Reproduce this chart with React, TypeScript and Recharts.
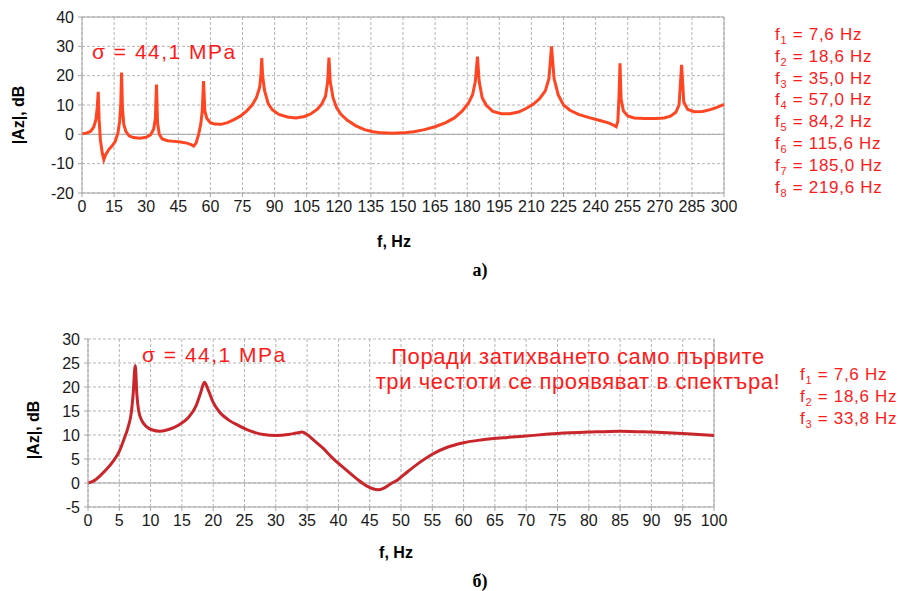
import React from 'react';
import { LineChart, Line, XAxis, YAxis, CartesianGrid, ReferenceLine } from 'recharts';

// spectrum a) 0..300 Hz
const freqA = [
  0, 2, 4, 5.5, 6.5, 7.1, 7.6, 8.0, 8.6, 9.5, 10.2, 11, 12.5, 14, 15.5, 16.8, 17.6, 18.1, 18.5, 18.9, 19.5, 20.5, 22, 24, 27, 30,
  32, 33.5, 34.3, 34.8, 35.3, 36.1, 37.5, 40, 43, 46, 49, 51, 52.2, 53.3, 54.5, 55.5, 56.2, 56.8, 57.4, 58.3, 60, 62, 65, 68,
  71, 74, 77, 79.5, 81.5, 83, 83.6, 84.0, 84.4, 85.3, 87, 89, 92, 96, 100, 104, 107, 110, 112, 113.8, 114.8, 115.4, 116.0, 117.3,
  119, 121, 124, 128, 132, 136, 140, 145, 150, 155, 160, 165, 170, 174, 177.5, 180.5, 182.5, 183.8, 184.8, 185.6, 187, 189,
  192, 196, 200, 204, 207.5, 211, 214, 216.5, 218.2, 219.4, 220.6, 222.5, 225, 228, 232, 237, 242, 246, 248.5, 249.6, 250.4,
  251.0, 251.4, 251.9, 253, 255, 258, 263, 268, 272, 275, 277.5, 279, 280.2, 281.2, 283, 286, 290, 294, 297, 300,
];
const ampA = [
  0.2, 0.4, 1.0, 2.5, 5, 9, 14.5, 5, -2, -6.5, -8.6, -7, -5.2, -4, -2.5, 0.5, 4.5, 10, 21.1, 9, 3.5, 1, -0.5, -1.1, -1.3, -1,
  -0.2, 1.8, 5.5, 17, 4, 0, -1.6, -2.2, -2.4, -2.6, -3, -3.5, -4, -3, 0, 3.5, 8, 18.2, 8, 5.5, 4, 3.5, 3.4, 4,
  5, 6.2, 8, 10, 12.5, 16, 20, 26, 20, 15, 10.5, 8.3, 6.8, 5.9, 5.6, 6.1, 7, 8.6, 10.3, 13, 18, 26.2, 18, 12.5,
  9, 6.8, 4.8, 2.9, 1.6, 0.9, 0.5, 0.4, 0.5, 0.9, 1.6, 2.6, 4, 5.6, 7.8, 10.5, 13.5, 18, 26.5, 18, 12.5, 9.8,
  7.8, 7, 7, 7.6, 8.8, 10.3, 12.3, 14.8, 19, 30, 19, 13.5, 10, 8.2, 6.8, 5.7, 4.7, 3.9, 3.1, 2.6, 4.5,
  14, 24.2, 12, 8, 6.3, 5.6, 5.4, 5.4, 5.6, 6.2, 7.5, 10, 23.7, 11, 8.5, 7.7, 7.8, 8.5, 9.3, 10.2,
];

// spectrum б) 0..100 Hz
const freqB = [
  0, 1, 2, 3, 4, 5, 5.8, 6.4, 6.9, 7.2, 7.55, 7.8, 8.1, 8.6, 9.3, 10.2, 11.5, 13, 14.5, 16, 17.2, 18.0, 18.6, 19.2, 20, 21,
  22.5, 24, 26, 28, 30, 32, 33.3, 34.2, 35, 36, 37.5, 39, 41, 43, 44.5, 45.5, 46.3, 47.2, 48.3, 49.5, 51, 53, 55, 57.5, 60,
  63, 67, 70, 75, 80, 85, 90, 95, 100,
];
const ampB = [
  0, 0.5, 1.6, 2.9, 4.5, 6.6, 9.3, 11.6, 14.5, 18.3, 24.5, 18.5, 15, 13, 11.8, 11.1, 10.8, 11.2, 12.1, 13.6, 15.9, 18.8, 21.0, 19.4, 16.8, 14.8,
  13.1, 12, 10.8, 10.1, 9.9, 10.1, 10.4, 10.6, 10.1, 9, 7.3, 5.3, 3, 0.8, -0.6, -1.2, -1.4, -1.1, -0.2, 0.7, 2.3, 4.3, 6.0, 7.5, 8.4,
  9, 9.5, 9.8, 10.3, 10.6, 10.8, 10.6, 10.3, 9.9,
];

const xTicksA = [0, 15, 30, 45, 60, 75, 90, 105, 120, 135, 150, 165, 180, 195, 210, 225, 240, 255, 270, 285, 300];
const yTicksA = [-20, -10, 0, 10, 20, 30, 40];
const xTicksB = [0, 5, 10, 15, 20, 25, 30, 35, 40, 45, 50, 55, 60, 65, 70, 75, 80, 85, 90, 95, 100];
const yTicksB = [-5, 0, 5, 10, 15, 20, 25, 30];

const freqLabelsA = ['7,6', '18,6', '35,0', '57,0', '84,2', '115,6', '185,0', '219,6'];
const freqLabelsB = ['7,6', '18,6', '33,8'];
const sigmaText = 'σ = 44,1 MPa';
const noteLines = ['Поради затихването само първите', 'три честоти се проявяват в спектъра!'];

const dataA = freqA.map((f, i) => ({ f, az: ampA[i] }));
const dataB = freqB.map((f, i) => ({ f, az: ampB[i] }));

const FONT = '"Liberation Sans", Arial, sans-serif';
const tickStyle = { fontSize: 16, fill: '#1a1a1a', fontFamily: FONT };
const RED = '#ff1a1a';

const abs = (left: number, top: number, extra: React.CSSProperties = {}): React.CSSProperties => ({
  position: 'absolute', left, top, fontFamily: FONT, whiteSpace: 'nowrap', ...extra,
});

function FreqList({ labels, left, top }: { labels: string[]; left: number; top: number }) {
  return (
    <div style={abs(left, top, { color: RED, fontSize: 17, lineHeight: '20.8px', letterSpacing: 0.7 })}>
      {labels.map((l, i) => (
        <div key={i}>
          f<span style={{ fontSize: 11, position: 'relative', top: 4 }}>{i + 1}</span> = {l} Hz
        </div>
      ))}
    </div>
  );
}

export default function App() {
  return (
    <div style={{ position: 'absolute', left: 0, top: 0, width: 898, height: 591, background: '#fff' }}>
      <div style={{ position: 'absolute', left: 0, top: 0 }}>
        <LineChart width={898} height={240} data={dataA} margin={{ top: 17, right: 174, left: 32, bottom: 17 }}>
          <CartesianGrid stroke="#b4b4b4" strokeDasharray="3 2" />
          <XAxis dataKey="f" type="number" domain={[0, 300]} ticks={xTicksA} interval={0} tick={tickStyle}
            tickSize={4} tickMargin={4} stroke="#a6a6a6" height={30} />
          <YAxis type="number" domain={[-20, 40]} ticks={yTicksA} interval={0} tick={tickStyle}
            tickSize={4} tickMargin={4} stroke="#a6a6a6" width={50} />
          <ReferenceLine y={0} stroke="#a6a6a6" />
          <ReferenceLine y={40} stroke="#a6a6a6" />
          <ReferenceLine x={300} stroke="#a6a6a6" />
          <Line type="linear" dataKey="az" stroke="#ff4521" strokeWidth={3} dot={false} isAnimationActive={false} />
        </LineChart>
      </div>
      <div style={{ position: 'absolute', left: 0, top: 322 }}>
        <LineChart width={898} height={229} data={dataB} margin={{ top: 17, right: 184, left: 38, bottom: 14 }}>
          <CartesianGrid stroke="#b4b4b4" strokeDasharray="3 2" />
          <XAxis dataKey="f" type="number" domain={[0, 100]} ticks={xTicksB} interval={0} tick={tickStyle}
            tickSize={4} tickMargin={4} stroke="#a6a6a6" height={30} />
          <YAxis type="number" domain={[-5, 30]} ticks={yTicksB} interval={0} tick={tickStyle}
            tickSize={4} tickMargin={4} stroke="#a6a6a6" width={50} />
          <ReferenceLine y={0} stroke="#a6a6a6" />
          <ReferenceLine x={100} stroke="#a6a6a6" />
          <Line type="monotone" dataKey="az" stroke="#c8262b" strokeWidth={3} dot={false} isAnimationActive={false} />
        </LineChart>
      </div>

      <div style={abs(19, 115, { fontSize: 16, fontWeight: 'bold', transform: 'translate(-50%, -50%) rotate(-90deg)' })}>|Az|, dB</div>
      <div style={abs(34, 430, { fontSize: 16, fontWeight: 'bold', transform: 'translate(-50%, -50%) rotate(-90deg)' })}>|Az|, dB</div>
      <div style={abs(394, 242, { fontSize: 16, fontWeight: 'bold', transform: 'translate(-50%, -50%)' })}>f, Hz</div>
      <div style={abs(396, 553, { fontSize: 16, fontWeight: 'bold', transform: 'translate(-50%, -50%)' })}>f, Hz</div>
      <div style={abs(480, 270, { fontSize: 18, fontWeight: 'bold', fontFamily: '"Liberation Serif", serif', transform: 'translate(-50%, -50%)' })}>а)</div>
      <div style={abs(480, 581, { fontSize: 18, fontWeight: 'bold', fontFamily: '"Liberation Serif", serif', transform: 'translate(-50%, -50%)' })}>б)</div>

      <div style={abs(92, 52, { color: RED, fontSize: 21, letterSpacing: 1.5, transform: 'translateY(-50%)' })}>{sigmaText}</div>
      <div style={abs(142, 355, { color: RED, fontSize: 21, letterSpacing: 1.5, transform: 'translateY(-50%)' })}>{sigmaText}</div>
      <div style={abs(578, 369, { color: RED, fontSize: 22, lineHeight: '25px', letterSpacing: 0.6, textAlign: 'center', transform: 'translate(-50%, -50%)' })}>
        {noteLines.map((l, i) => <div key={i}>{l}</div>)}
      </div>

      <FreqList labels={freqLabelsA} left={775} top={25} />
      <FreqList labels={freqLabelsB} left={800} top={365} />
    </div>
  );
}
